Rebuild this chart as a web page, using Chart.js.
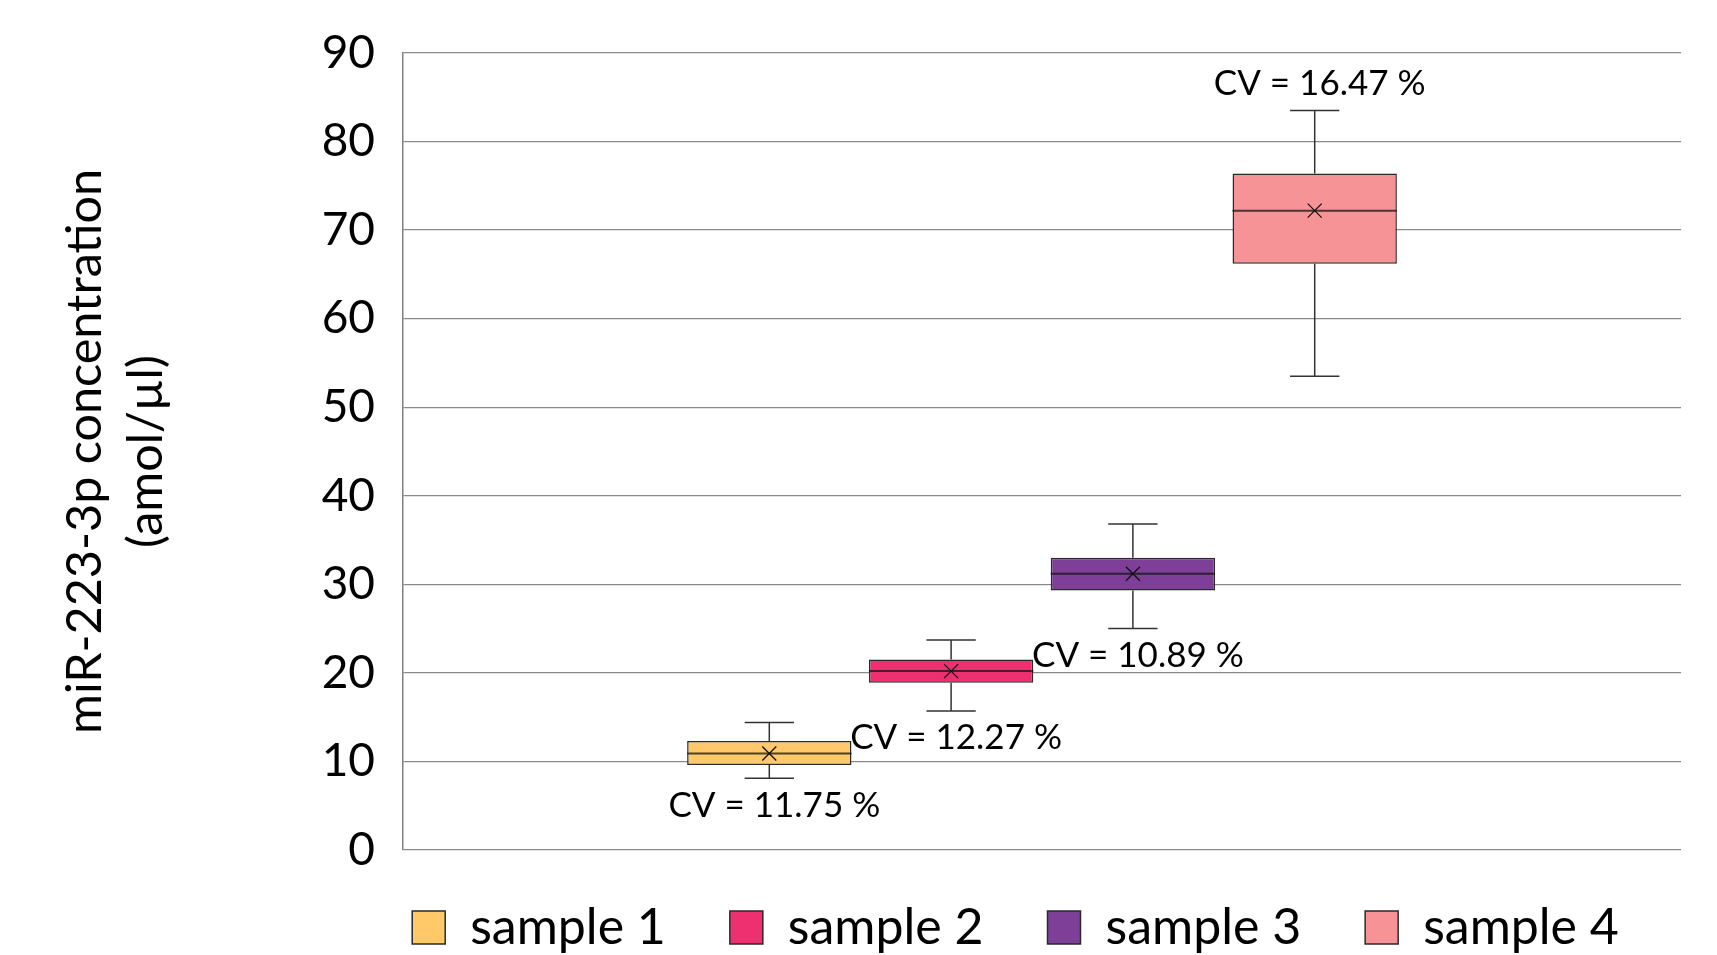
<!DOCTYPE html>
<html>
<head>
<meta charset="utf-8">
<script src="https://cdn.jsdelivr.net/npm/chart.js@4.4.1/dist/chart.umd.min.js"></script>
<style>
  html, body { margin: 0; padding: 0; background: #ffffff; }
  canvas { display: block; }
</style>
</head>
<body>
<canvas id="chart" width="1717" height="955"></canvas>
<script>
// Box-plot summary per sample (amol/µl)
const samples     = ['sample 1', 'sample 2', 'sample 3', 'sample 4'];
const whiskerLow  = [8.1, 15.7, 25.0, 53.5];
const quartile1   = [9.6, 18.9, 29.3, 66.2];
const medians     = [10.9, 20.2, 31.2, 72.2];
const quartile3   = [12.3, 21.5, 33.0, 76.4];
const whiskerHigh = [14.4, 23.7, 36.8, 83.5];
const means       = [10.9, 20.2, 31.2, 72.2];
const cvLabels    = ['CV = 11.75 %', 'CV = 12.27 %', 'CV = 10.89 %', 'CV = 16.47 %'];
const cvAbove     = [false, false, false, true];
const yTickValues = [0, 10, 20, 30, 40, 50, 60, 70, 80, 90];

const fillColors  = ['#FFC869', '#EE3070', '#7D3F98', '#F69396'];
const FONT = 'Lato, "Open Sans", sans-serif';

// Whiskers, caps, medians, mean markers and CV annotations drawn around the floating bars
const boxDecor = {
  id: 'boxDecor',
  beforeDatasetsDraw(chart) {
    const ctx = chart.ctx;
    const y = chart.scales.y;
    chart.data.datasets.forEach((ds, i) => {
      const bar = chart.getDatasetMeta(i).data[0];
      if (!bar) return;
      const x = bar.x;
      const capHalf = bar.width * 0.15;
      const yh = y.getPixelForValue(whiskerHigh[i]);
      const yl = y.getPixelForValue(whiskerLow[i]);
      ctx.save();
      ctx.strokeStyle = '#333333';
      ctx.lineWidth = 1.5;
      ctx.beginPath();
      ctx.moveTo(x, y.getPixelForValue(quartile3[i]));
      ctx.lineTo(x, yh);
      ctx.moveTo(x, y.getPixelForValue(quartile1[i]));
      ctx.lineTo(x, yl);
      ctx.moveTo(x - capHalf, yh); ctx.lineTo(x + capHalf, yh);
      ctx.moveTo(x - capHalf, yl); ctx.lineTo(x + capHalf, yl);
      ctx.stroke();
      ctx.restore();
    });
  },
  afterDatasetsDraw(chart) {
    const ctx = chart.ctx;
    const y = chart.scales.y;
    chart.data.datasets.forEach((ds, i) => {
      const bar = chart.getDatasetMeta(i).data[0];
      if (!bar) return;
      const x = bar.x;
      const half = bar.width / 2;
      ctx.save();
      // median
      const ym = y.getPixelForValue(medians[i]);
      ctx.strokeStyle = 'rgba(20,20,20,0.75)';
      ctx.lineWidth = 2;
      ctx.beginPath();
      ctx.moveTo(x - half, ym); ctx.lineTo(x + half, ym);
      ctx.stroke();
      // mean marker
      const yMean = y.getPixelForValue(means[i]);
      const s = 7;
      ctx.strokeStyle = '#111111';
      ctx.lineWidth = 1.3;
      ctx.beginPath();
      ctx.moveTo(x - s, yMean - s); ctx.lineTo(x + s, yMean + s);
      ctx.moveTo(x + s, yMean - s); ctx.lineTo(x - s, yMean + s);
      ctx.stroke();
      // CV annotation
      ctx.fillStyle = '#000000';
      ctx.font = '35px ' + FONT;
      ctx.textAlign = 'center';
      ctx.textBaseline = 'middle';
      const ty = cvAbove[i]
        ? y.getPixelForValue(whiskerHigh[i]) - 27
        : y.getPixelForValue(whiskerLow[i]) + 27;
      ctx.fillText(cvLabels[i], x + 5, ty);
      ctx.restore();
    });
  },
  afterLayout(chart) {
    // place the legend row under the plotted boxes
    const lg = chart.legend;
    if (lg) {
      const shift = 175;
      lg.left += shift;
      lg.right += shift;
      lg.top = chart.chartArea.bottom - 11.5;
    }
  }
};

const datasets = samples.map((name, i) => ({
  label: name,
  data: [[quartile1[i], quartile3[i]]],
  backgroundColor: fillColors[i],
  borderColor: '#2a2a2a',
  borderWidth: 1.5,
  borderSkipped: false,
  barPercentage: 0.904,
  categoryPercentage: 0.569
}));

new Chart(document.getElementById('chart'), {
  type: 'bar',
  data: { labels: [''], datasets },
  options: {
    responsive: false,
    animation: false,
    devicePixelRatio: 1,
    layout: { padding: { left: 0, right: 36, top: 53, bottom: -19 } },
    plugins: {
      tooltip: { enabled: false },
      legend: {
        position: 'bottom',
        align: 'center',
        labels: {
          color: '#000000',
          font: { family: FONT, size: 50 },
          boxWidth: 33,
          boxHeight: 33,
          padding: 64
        }
      }
    },
    scales: {
      x: {
        display: false,
        grid: { display: false }
      },
      y: {
        min: 0,
        max: 90,
        afterFit(scale) { scale.width = 403; },
        afterBuildTicks(scale) { scale.ticks = yTickValues.map(v => ({ value: v })); },
        ticks: {
          color: '#000000',
          font: { family: FONT, size: 46, lineHeight: 1 },
          padding: 28
        },
        grid: {
          color: '#8a8a8a',
          lineWidth: 1.3,
          drawTicks: false
        },
        border: { display: true, color: '#808080', width: 1.5 },
        title: {
          display: true,
          text: ['miR-223-3p concentration', '(amol/µl)'],
          color: '#000000',
          font: { family: FONT, size: 48.5, lineHeight: 1.26 },
          padding: { top: 55, bottom: 0 }
        }
      }
    }
  },
  plugins: [boxDecor]
});
</script>
</body>
</html>
